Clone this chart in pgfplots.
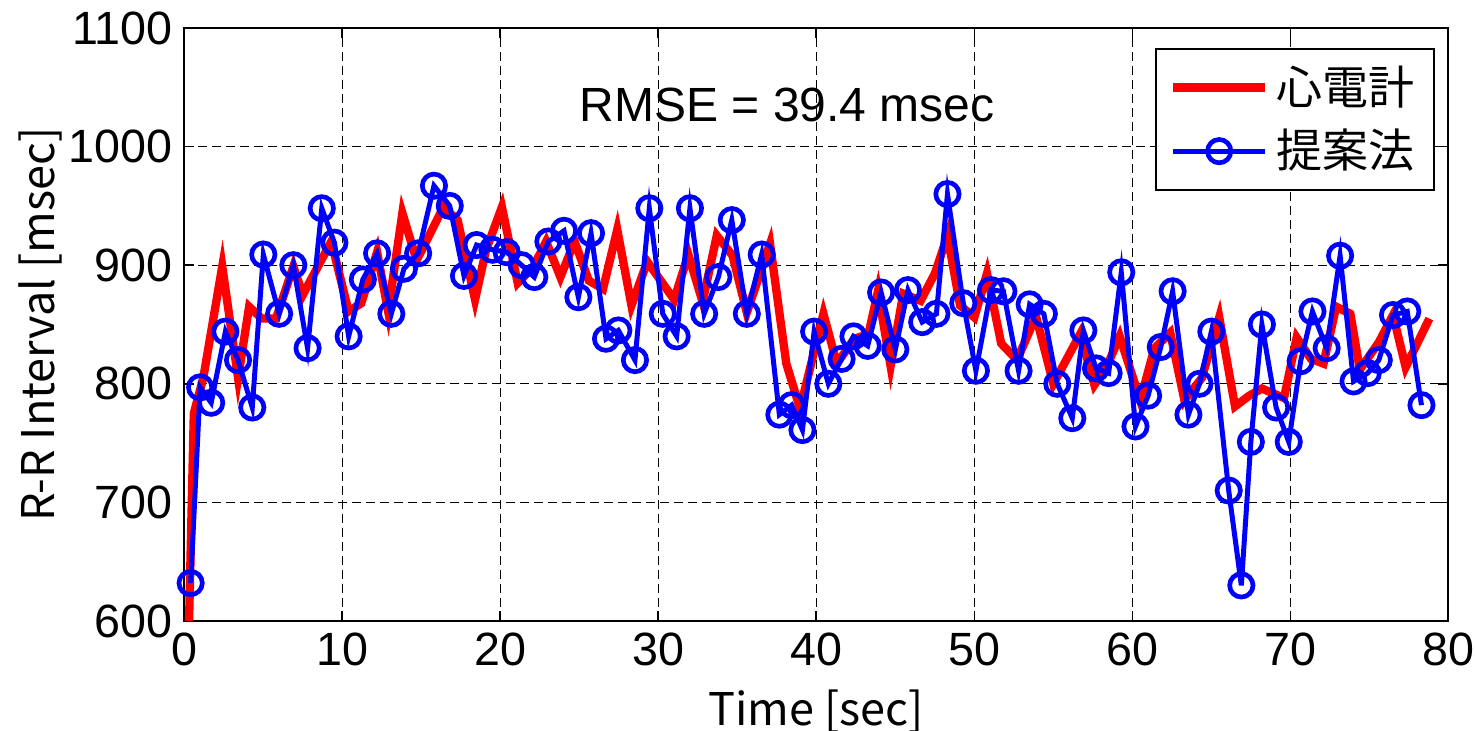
\documentclass[border=0pt]{standalone}
\usepackage{fontspec}
\setmainfont{Liberation Sans}
\newfontfamily\cjk{Noto Sans CJK JP}
\usepackage{pgfplots}
\pgfplotsset{compat=1.18}
\begin{document}
\begin{tikzpicture}
\begin{axis}[
  scale only axis, width=379.2pt, height=177.9pt,
  at={(0,0)}, anchor=south west,
  xmin=0, xmax=80, ymin=600, ymax=1100,
  xtick={0,10,...,80}, ytick={600,700,...,1100},
  grid=major,
  grid style={black, line width=0.4pt, dash pattern=on 2.6pt off 1.6pt},
  axis line style={line width=0.6pt},
  tick align=inside, major tick length=3pt,
  tick style={black, line width=0.5pt},
  /pgf/number format/assume math mode=true,
  /pgf/number format/1000 sep={},
  ticklabel style={font=\fontsize{14}{16}\selectfont},
  xlabel={Time [sec]}, ylabel={R-R Interval [msec]},
  label style={font=\cjk\fontsize{13.5}{16}\selectfont},
  xlabel style={at={(axis description cs:0.5,-0.153)}, anchor=center},
  ylabel style={at={(axis description cs:-0.114,0.5)}, anchor=center},
  legend style={at={(axis description cs:0.9895,0.966)}, anchor=north east,
    draw=black, line width=0.6pt, fill=white,
    font=\cjk\fontsize{13.8}{16}\selectfont,
    cells={anchor=west}, row sep=2pt, inner xsep=4pt, inner ysep=3pt},
  legend image code/.code={\draw[mark repeat=2,mark phase=2,#1] plot coordinates {(0pt,0pt) (13.8pt,0pt) (27.6pt,0pt)};},
]
\addplot[color=red, line width=2.5pt, no markers] coordinates {
(0.3,600) (0.6,775) (1.2,805) (2.4,899) (3.4,805) (4.1,865) (4.9,855) (5.8,855)
(6.9,899) (7.5,875) (9.3,920) (10.4,861) (11.2,868) (12.2,911) (12.9,861) (13.8,944)
(14.7,904) (16.4,949) (17.3,938) (18.4,871) (19.1,913) (20.1,949) (21.1,885) (22.1,899)
(22.9,920) (23.8,890) (24.7,920) (25.6,887) (26.5,880) (27.4,930) (28.3,866) (29.3,903)
(31.0,871) (31.9,909) (32.8,869) (33.7,925) (34.7,908) (35.6,860) (37.07,918) (38.1,817)
(38.97,779) (40.45,859) (41.3,817) (42.4,838) (43.3,842) (43.9,878) (44.7,815) (45.5,876)
(46.6,870) (47.5,893) (48.3,925) (49.1,866) (50.0,856) (50.8,893) (51.7,834) (52.7,820)
(53.9,857) (55.0,800) (56.7,842) (57.6,799) (58.4,815) (59.2,840) (60.5,786) (61.4,830)
(62.4,843) (63.3,786) (64.4,805) (65.5,856) (66.5,781) (67.4,790) (68.2,796) (69.6,788)
(70.4,839) (71.3,821) (72.1,817) (72.9,865) (73.8,859) (74.4,812) (75.6,835) (76.5,858)
(77.3,814) (78.8,855)
};
\addlegendentry{心電計}
\addplot[color=blue, line width=1.5pt, mark=o, mark size=3.5pt, mark options={line width=1.4pt}] coordinates {
(0.4,632) (1.0,797) (1.7,784) (2.6,844) (3.4,820) (4.3,780) (5.0,909) (6.0,859)
(6.9,900) (7.8,830) (8.7,948) (9.5,919) (10.4,840) (11.3,888) (12.2,910) (13.1,859)
(13.9,897) (14.8,910) (15.8,967) (16.8,950) (17.7,891) (18.5,917) (19.5,913) (20.4,911)
(21.35,900) (22.15,890) (23.04,920) (24.03,929) (24.94,873) (25.74,927) (26.69,838) (27.47,845)
(28.52,820) (29.43,948) (30.28,859) (31.16,840) (32.0,948) (32.9,859) (33.8,890) (34.65,938)
(35.6,859) (36.54,909) (37.66,774) (38.44,782) (39.12,761) (39.86,844) (40.76,800) (41.6,821)
(42.35,840) (43.25,832) (44.1,877) (45.0,829) (45.8,879) (46.7,852) (47.6,859) (48.3,960)
(49.3,868) (50.1,811) (51.05,879) (51.84,878) (52.8,811) (53.5,867) (54.4,859) (55.25,800)
(56.2,771) (56.9,845) (57.7,813) (58.5,809) (59.3,894) (60.2,764) (61.0,790) (61.8,831)
(62.55,878) (63.55,774) (64.25,800) (65.0,844) (66.1,710) (66.9,630) (67.5,751) (68.2,850)
(69.1,780) (69.9,751) (70.65,819) (71.4,861) (72.3,830) (73.15,908) (74.0,802) (74.9,809)
(75.6,820) (76.5,858) (77.4,861) (78.3,782)
};
\addlegendentry{提案法}
\node[font=\fontsize{14.4}{17}\selectfont] at (axis cs:38.15,1034.8) {RMSE = 39.4 msec};
\end{axis}
\pgfresetboundingbox
\path[use as bounding box] (-55.3pt,-33pt) rectangle (387.2pt,186.3pt);
\end{tikzpicture}
\end{document}
